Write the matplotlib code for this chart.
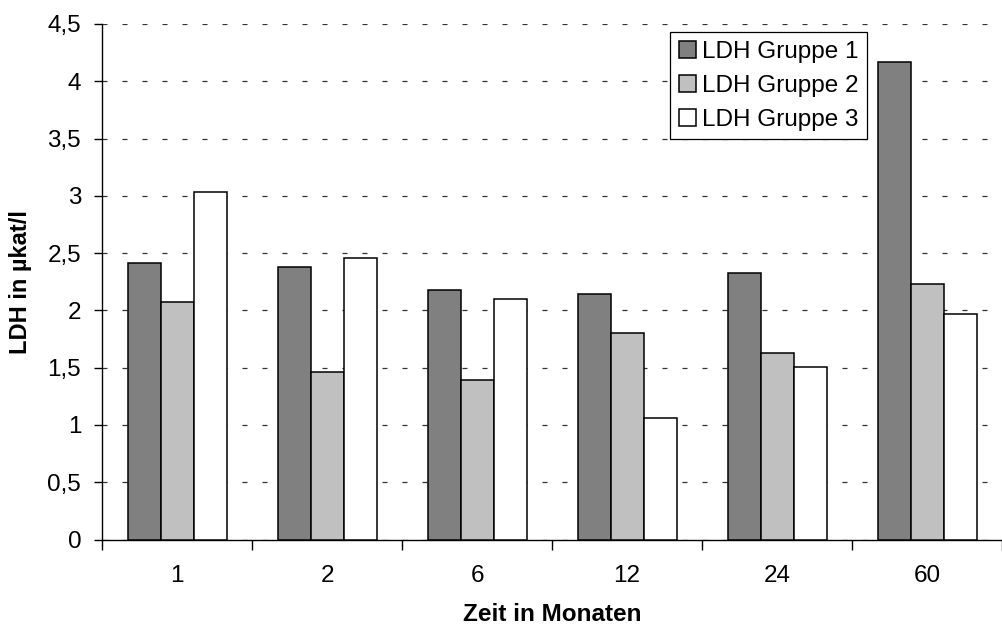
import numpy as np
import matplotlib.pyplot as plt
from matplotlib.ticker import FuncFormatter

plt.rcParams['font.family'] = ['Liberation Sans', 'DejaVu Sans']
plt.rcParams['lines.scale_dashes'] = False

# Daten
monate = ["1", "2", "6", "12", "24", "60"]
gruppe1 = [2.41, 2.38, 2.18, 2.14, 2.33, 4.17]
gruppe2 = [2.07, 1.46, 1.39, 1.80, 1.63, 2.23]
gruppe3 = [3.03, 2.46, 2.10, 1.06, 1.51, 1.97]
namen = ["LDH Gruppe 1", "LDH Gruppe 2", "LDH Gruppe 3"]
farben = ["#808080", "#c0c0c0", "#ffffff"]

fig = plt.figure(figsize=(10.02, 6.28), dpi=100)
ax = fig.add_axes([0.1018, 0.1409, 0.8982, 0.8209])

x = np.arange(len(monate))
w = 0.22
for i, (werte, name, farbe) in enumerate(zip([gruppe1, gruppe2, gruppe3], namen, farben)):
    ax.bar(x + (i - 1) * w, werte, w, color=farbe, edgecolor="black",
           linewidth=1.1, label=name, zorder=3)

ax.set_ylim(0, 4.5)
ax.set_xlim(-0.5, -0.5 + 900 / 152)
ax.set_yticks(np.arange(0, 4.51, 0.5))
ax.yaxis.set_major_formatter(FuncFormatter(lambda v, p: ("%g" % v).replace(".", ",")))
ax.yaxis.grid(True, linestyle=(0, (3.6, 10.8)), color="#333333", linewidth=0.9, zorder=0)

# Ticks zwischen den Kategorien, Beschriftung in der Mitte
ax.set_xticks(np.arange(-0.5, len(monate), 1.0))
ax.set_xticklabels([])
ax.set_xticks(x, minor=True)
ax.set_xticklabels(monate, minor=True)
ax.tick_params(axis="x", which="major", length=7, width=1, direction="out")
ax.tick_params(axis="x", which="minor", length=0, pad=18, labelsize=17.5)
ax.tick_params(axis="y", length=6, width=1, direction="out", labelsize=17.5, pad=9)

for s in ["top", "right"]:
    ax.spines[s].set_visible(False)
ax.spines["left"].set_linewidth(1)
ax.spines["bottom"].set_linewidth(1)

ax.set_xlabel("Zeit in Monaten", fontsize=17.5, fontweight="bold", labelpad=12)
ax.set_ylabel("LDH in µkat/l", fontsize=17, fontweight="bold", labelpad=11)

leg = ax.legend(loc="upper left", bbox_to_anchor=(670 / 1002, 1 - 32 / 628),
                bbox_transform=fig.transFigure, fontsize=17.5, frameon=True,
                fancybox=False, edgecolor="black", framealpha=1,
                handlelength=0.7, handleheight=0.7, handletextpad=0.25,
                borderpad=0.35, labelspacing=0.5, borderaxespad=0)
leg.get_frame().set_linewidth(0.9)

fig.savefig("out.png", dpi=100)
